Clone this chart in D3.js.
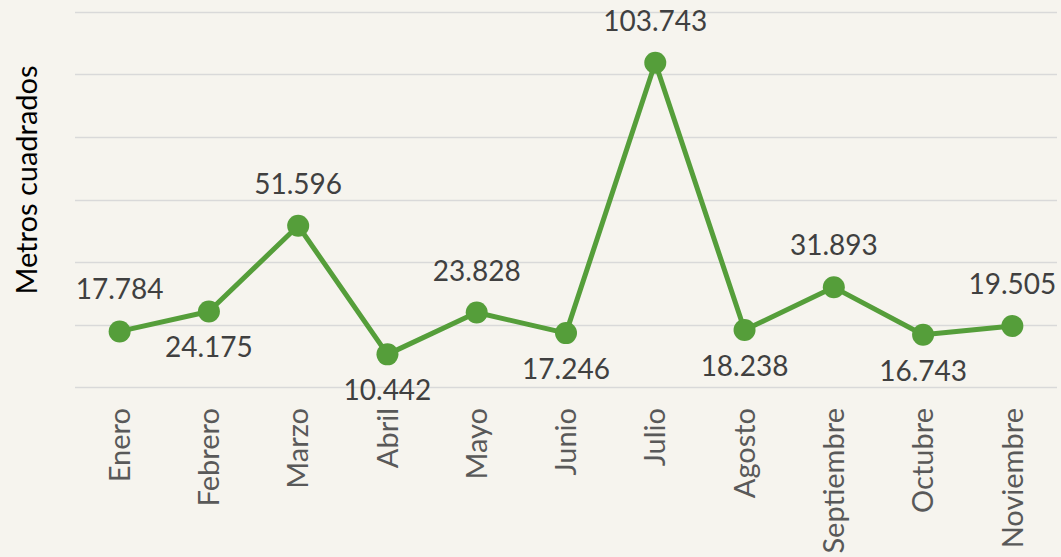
<!DOCTYPE html>
<html>
<head>
<meta charset="utf-8">
<script src="https://cdn.jsdelivr.net/npm/d3@7"></script>
<style>
  html, body { margin: 0; padding: 0; background: #f6f4ee; }
  svg { display: block; }
</style>
</head>
<body>
<div id="chart"></div>
<script>
// months on the x axis
const months = ["Enero", "Febrero", "Marzo", "Abril", "Mayo", "Junio", "Julio",
  "Agosto", "Septiembre", "Octubre", "Noviembre"];
// square metres per month
const metros = [17784, 24175, 51596, 10442, 23828, 17246, 103743, 18238, 31893, 16743, 19505];
// label side for each point: 1 = above, -1 = below
const labelSide = [1, -1, 1, -1, 1, -1, 1, -1, 1, -1, 1];
const gridTicks = [0, 20000, 40000, 60000, 80000, 100000, 120000];

const width = 1061, height = 557;
const margin = { top: 12, right: 4, bottom: 170, left: 75 };

const green = "#559e3a";
const textColor = "#404040";
const fontFamily = "Lato, 'Open Sans', sans-serif";

const esFormat = d3.formatLocale({ decimal: ",", thousands: ".", grouping: [3], currency: ["", "€"] }).format(",.0f");

const svg = d3.select("#chart").append("svg")
  .attr("width", width)
  .attr("height", height);

const x = d3.scaleBand()
  .domain(months)
  .range([margin.left, width - margin.right]);

const y = d3.scaleLinear()
  .domain([0, 120000])
  .range([height - margin.bottom, margin.top]);

// gridlines
svg.append("g")
  .selectAll("line")
  .data(gridTicks)
  .enter()
  .append("line")
  .attr("x1", margin.left)
  .attr("x2", width - margin.right)
  .attr("y1", d => Math.round(y(d)) + 0.5)
  .attr("y2", d => Math.round(y(d)) + 0.5)
  .attr("stroke", "#d9d9d9")
  .attr("stroke-width", 1.5);

// x axis labels, rotated
const xAxis = svg.append("g")
  .attr("transform", `translate(0,${y(0)})`)
  .call(d3.axisBottom(x).tickSize(0).tickPadding(0));
xAxis.select(".domain").remove();
xAxis.selectAll("text")
  .attr("transform", "rotate(-90)")
  .attr("x", -21)
  .attr("y", 0)
  .attr("dy", "0.35em")
  .attr("text-anchor", "end")
  .attr("fill", "#595959")
  .attr("font-size", 29)
  .attr("font-family", fontFamily);

// y axis title
svg.append("text")
  .attr("transform", `translate(37,180) rotate(-90)`)
  .attr("text-anchor", "middle")
  .attr("fill", "#000")
  .attr("font-size", 29)
  .attr("font-family", fontFamily)
  .text("Metros cuadrados");

const cx = d => x(d) + x.bandwidth() / 2;

const line = d3.line()
  .x((d, i) => cx(months[i]))
  .y(d => y(d));

svg.append("path")
  .datum(metros)
  .attr("fill", "none")
  .attr("stroke", green)
  .attr("stroke-width", 5)
  .attr("stroke-linejoin", "round")
  .attr("d", line);

svg.append("g")
  .selectAll("circle")
  .data(metros)
  .enter()
  .append("circle")
  .attr("cx", (d, i) => cx(months[i]))
  .attr("cy", d => y(d))
  .attr("r", 11)
  .attr("fill", green);

svg.append("g")
  .selectAll("text")
  .data(metros)
  .enter()
  .append("text")
  .attr("x", (d, i) => cx(months[i]))
  .attr("y", (d, i) => y(d) + (labelSide[i] > 0 ? -32 : 46))
  .attr("text-anchor", "middle")
  .attr("fill", textColor)
  .attr("font-size", 28)
  .attr("font-family", fontFamily)
  .text(d => esFormat(d));
</script>
</body>
</html>
